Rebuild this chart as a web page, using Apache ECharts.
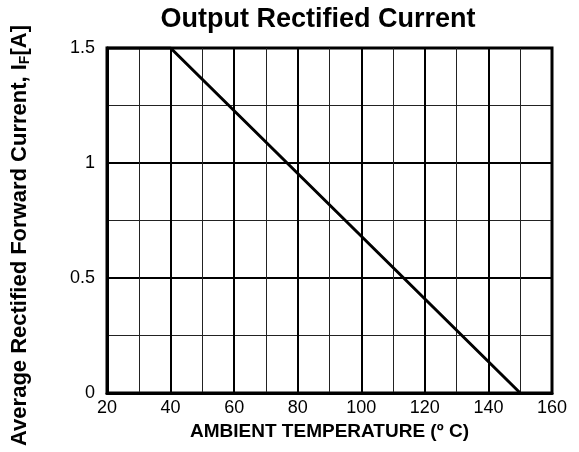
<!DOCTYPE html>
<html>
<head>
<meta charset="utf-8">
<script src="https://cdn.jsdelivr.net/npm/echarts@6/dist/echarts.min.js"></script>
<style>
  html, body { margin: 0; padding: 0; background: #fff; }
  #main { width: 579px; height: 452px; }
</style>
</head>
<body>
<div id="main"></div>
<script>
// derating curve: ambient temperature (C) vs average forward current (A)
var temps = [20, 40, 150];
var currents = [1.5, 1.5, 0];

var xTicks = [20, 40, 60, 80, 100, 120, 140, 160];
var yTicks = [0, 0.5, 1, 1.5];

var font = 'Liberation Sans, Arial, Helvetica, sans-serif';

var myChart = echarts.init(document.getElementById('main'));
myChart.setOption({
    backgroundColor: '#fff',
    animation: false,
    title: {
        text: 'Output Rectified Current',
        left: 313,
        textAlign: 'center',
        top: 1,
        textStyle: { fontFamily: font, fontSize: 27, fontWeight: 'bold', color: '#000' }
    },
    grid: {
        left: 107, right: 27, top: 48, bottom: 59,
        show: true, borderColor: '#000', borderWidth: 3
    },
    xAxis: {
        type: 'value',
        min: xTicks[0],
        max: xTicks[xTicks.length - 1],
        interval: 20,
        name: 'AMBIENT TEMPERATURE (\u00ba C)',
        nameLocation: 'middle',
        nameGap: 23,
        nameTextStyle: { fontFamily: font, fontSize: 19, fontWeight: 'bold', color: '#000' },
        axisLine: { show: true, lineStyle: { color: '#000', width: 3 } },
        axisTick: { show: false },
        axisLabel: { fontFamily: font, fontSize: 18, color: '#000', margin: 6 },
        splitLine: { show: true, lineStyle: { color: '#000', width: 2 } },
        minorTick: { show: false, splitNumber: 2 },
        minorSplitLine: { show: true, lineStyle: { color: '#222', width: 1 } }
    },
    yAxis: {
        type: 'value',
        min: yTicks[0],
        max: yTicks[yTicks.length - 1],
        interval: 0.5,
        name: 'Average Rectified Forward Current, I{sub|F}[A]',
        nameLocation: 'middle',
        nameGap: 75,
        nameTextStyle: {
            fontFamily: font, fontSize: 22, fontWeight: 'bold', color: '#000',
            padding: [0, 30, 0, 0],
            rich: {
                sub: { fontFamily: font, fontSize: 14, fontWeight: 'bold', color: '#000', padding: [10, 0, 0, 0] }
            }
        },
        axisLine: { show: true, lineStyle: { color: '#000', width: 3 } },
        axisTick: { show: false },
        axisLabel: { fontFamily: font, fontSize: 18, color: '#000', margin: 12 },
        splitLine: { show: true, lineStyle: { color: '#000', width: 2 } },
        minorTick: { show: false, splitNumber: 2 },
        minorSplitLine: { show: true, lineStyle: { color: '#222', width: 1 } }
    },
    series: [{
        type: 'line',
        data: temps.map(function (t, i) { return [t, currents[i]]; }),
        symbol: 'none',
        lineStyle: { color: '#000', width: 3 },
        silent: true
    }]
});
</script>
</body>
</html>
